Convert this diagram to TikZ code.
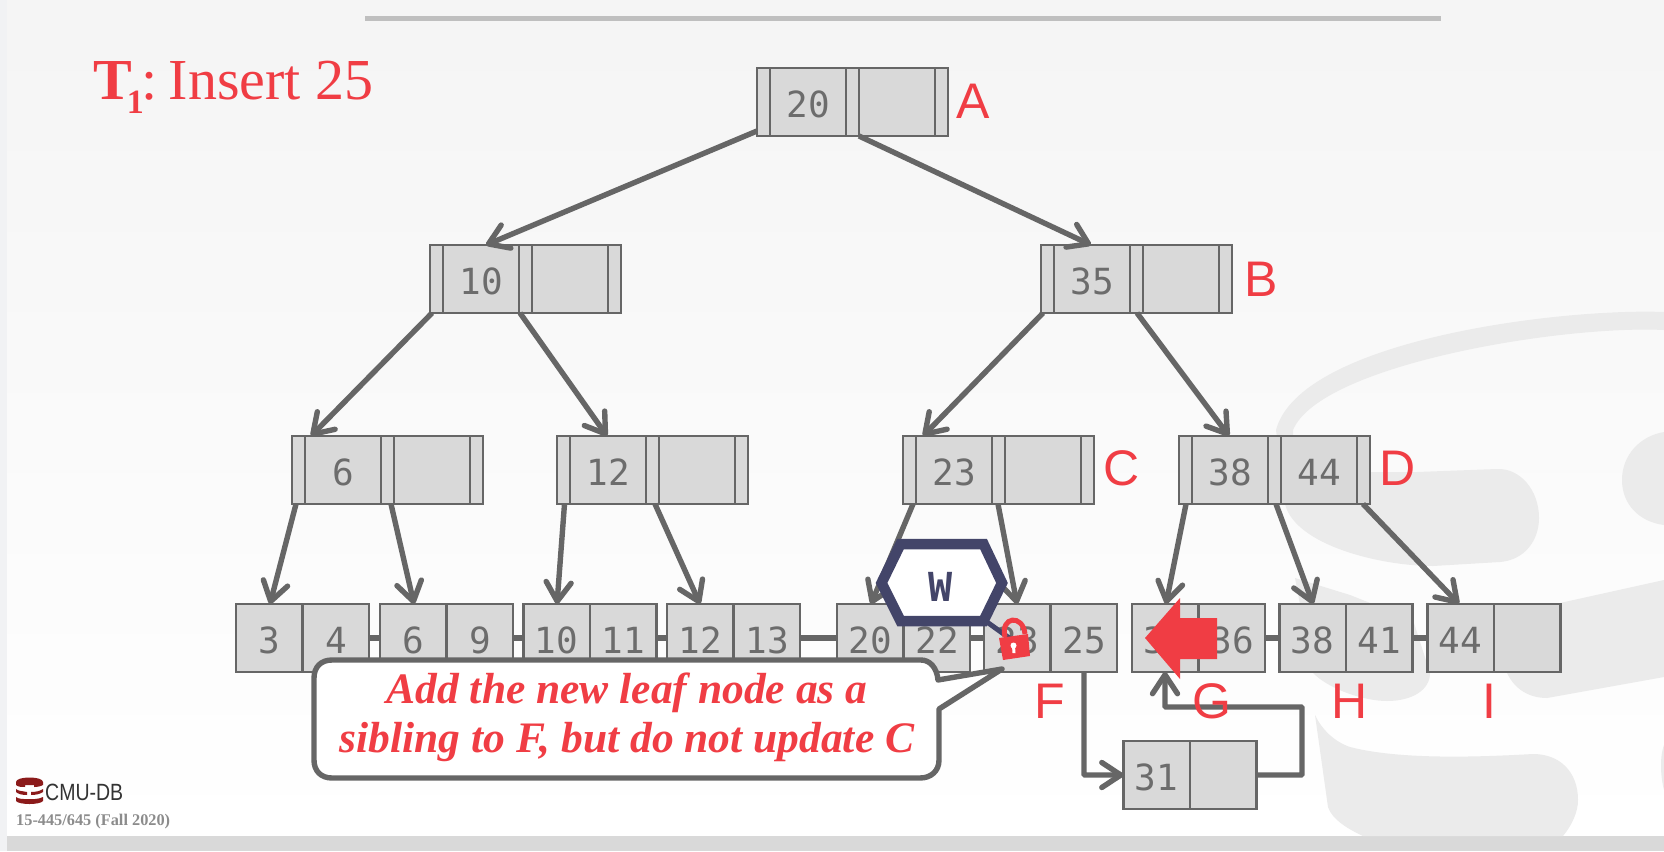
\documentclass[tikz,border=0pt]{standalone}
\usepackage{fontspec}
\usepackage{graphicx}
\usetikzlibrary{arrows.meta,calc}
\setmainfont{Liberation Serif}
\newfontfamily\monof{DejaVu Sans Mono}
\newfontfamily\labf{Liberation Sans}
\definecolor{lred}{HTML}{F03D44}
\definecolor{lgray}{HTML}{666666}
\definecolor{ltext}{HTML}{6C6C6C}
\definecolor{lfill}{HTML}{D9D9D9}
\definecolor{lblue}{HTML}{434569}
\definecolor{wmark}{HTML}{EBEBEB}
\definecolor{lstrip}{HTML}{F1F2F4}
\definecolor{dbred}{HTML}{8B1A1A}
\tikzset{
  cellbox/.style={draw=lgray,fill=lfill,line width=2.7pt,inner sep=0pt,outer sep=0pt,anchor=north west,rectangle},
  innerbox/.style={cellbox,minimum width=191pt,minimum height=68pt},
  leafbox/.style={cellbox,minimum width=133pt,minimum height=68pt},
  divider/.style={draw=lgray,line width=2.7pt},
  keytext/.style={font=\monof\fontsize{36}{36}\selectfont,text=ltext,anchor=base,inner sep=0pt},
  letter/.style={font=\labf\fontsize{50}{50}\selectfont,text=lred,anchor=base,inner sep=0pt},
  ptr/.style={draw=lgray,line width=5.4pt,-{Straight Barb[length=19pt,width=25pt,round]}},
  sib/.style={draw=lgray,line width=5.4pt},
}
\newcommand{\innernode}[5]{% name x y key1 key2
  \node[innerbox] (#1) at (#2,#3) {};
  \foreach \d in {13,89,102,178}{\draw[divider] ([xshift=\d pt]#1.north west) -- ([xshift=\d pt]#1.south west);}
  \node[keytext] (#1-k1) at (#2+51,#3+49.5) {#4};
  \node[keytext] (#1-k2) at (#2+140.5,#3+49.5) {#5};
}
\newcommand{\leafnode}[5]{% name x y key1 key2
  \node[leafbox] (#1) at (#2,#3) {};
  \draw[divider] ([xshift=66.5pt]#1.north west) -- ([xshift=66.5pt]#1.south west);
  \node[keytext] (#1-k1) at (#2+33,#3+49.5) {#4};
  \node[keytext] (#1-k2) at (#2+100,#3+49.5) {#5};
}
\begin{document}
\begin{tikzpicture}[x=1pt,y=-1pt]
\useasboundingbox (0,0) rectangle (1664,851);
% background
\fill[lstrip] (0,0) rectangle (1664,851);
\fill[black!4] (7,0) rectangle (1664,14);
\shade[top color=black!4,bottom color=white] (7,14) rectangle (1664,835);
\fill[lfill] (7,836) rectangle (1664,851);
\fill[black!25] (365,16) rectangle (1441,21);
% watermark
\fill[wmark] (1664,312) .. controls (1560,308) and (1300,340) .. (1276,430)
  -- (1285,504) .. controls (1295,545) and (1380,566) .. (1433,566)
  -- (1500,562) .. controls (1525,560) and (1539,540) .. (1539,518)
  .. controls (1539,490) and (1520,468) .. (1497,469)
  -- (1417,472) -- (1293,472) -- (1293,430)
  .. controls (1320,365) and (1560,325) .. (1664,330) -- cycle;
\fill[wmark] (1664,432) .. controls (1640,436) and (1622,455) .. (1622,480)
  .. controls (1622,505) and (1640,522) .. (1664,525) -- cycle;
\fill[wmark] (1295,578) -- (1313,673) .. controls (1330,690) and (1365,701) .. (1387,701)
  .. controls (1412,701) and (1430,690) .. (1430,673) -- (1413,620) -- (1350,595) -- cycle;
\fill[wmark] (1664,580) -- (1560,603) -- (1480,610) -- (1507,673)
  .. controls (1515,690) and (1530,698) .. (1547,698) -- (1664,677) -- cycle;
\fill[wmark] (1315,715) -- (1328,807) .. controls (1332,820) and (1350,830) .. (1363,836)
  -- (1563,836) .. controls (1572,825) and (1578,812) .. (1578,800)
  .. controls (1578,772) and (1560,754) .. (1533,754)
  .. controls (1480,757) and (1400,760) .. (1350,747)
  .. controls (1335,742) and (1322,730) .. (1315,715) -- cycle;
\fill[wmark] (1664,745) .. controls (1660,755) and (1660,775) .. (1664,790) -- cycle;
% title
\node[anchor=base west,inner sep=0pt,text=lred,font=\fontsize{58}{58}\selectfont] (title) at (93,99)
  {{\bfseries T}\kern-5pt\raisebox{-14pt}{\fontsize{34}{34}\selectfont\bfseries 1}\kern-2pt:\kern11pt Insert 25};
% inner nodes
\innernode{A}{757}{68}{20}{}
\innernode{N10}{430}{245}{10}{}
\innernode{B}{1041}{245}{35}{}
\innernode{N6}{292}{436}{6}{}
\innernode{N12}{557}{436}{12}{}
\innernode{C}{903}{436}{23}{}
\innernode{D}{1179}{436}{38}{44}
% leaves
\leafnode{L1}{236}{604}{3}{4}
\leafnode{L2}{380}{604}{6}{9}
\leafnode{L3}{523.5}{604}{10}{11}
\leafnode{L4}{667}{604}{12}{13}
\leafnode{L5}{837}{604}{20}{22}
\leafnode{F}{984}{604}{23}{25}
\leafnode{G}{1132}{604}{31}{36}
\leafnode{H}{1279.5}{604}{38}{41}
\leafnode{I}{1427.5}{604}{44}{}
\leafnode{N31}{1123.5}{741}{31}{}
% sibling links
\draw[sib] (L1.east) -- (L2.west);
\draw[sib] (L2.east) -- (L3.west);
\draw[sib] (L3.east) -- (L4.west);
\draw[sib] (L4.east) -- (L5.west);
\draw[sib] (L5.east) -- (F.west);
\draw[sib] (G.east) -- (H.west);
\draw[sib] (H.east) -- (I.west);
% tree pointers
\draw[ptr] ([yshift=5pt]A.south west) -- ([xshift=56pt]N10.north west);
\draw[ptr] ([xshift=102pt]A.south west) -- ([xshift=50pt]B.north west);
\draw[ptr] ([xshift=2pt]N10.south west) -- ([xshift=19pt]N6.north west);
\draw[ptr] ([xshift=90pt]N10.south west) -- ([xshift=50pt]N12.north west);
\draw[ptr] ([xshift=2pt]B.south west) -- ([xshift=20pt]C.north west);
\draw[ptr] ([xshift=96pt]B.south west) -- ([xshift=50pt]D.north west);
\draw[ptr] ([xshift=4pt]N6.south west) -- ([xshift=34pt]L1.north west);
\draw[ptr] ([xshift=99pt]N6.south west) -- ([xshift=34pt]L2.north west);
\draw[ptr] ([xshift=7.5pt]N12.south west) -- ([xshift=33.5pt]L3.north west);
\draw[ptr] ([xshift=98pt]N12.south west) -- ([xshift=33pt]L4.north west);
\draw[ptr] ([xshift=10pt]C.south west) -- ([xshift=34pt]L5.north west);
\draw[ptr] ([xshift=95pt]C.south west) -- ([xshift=33pt]F.north west);
\draw[ptr] ([xshift=7pt]D.south west) -- ([xshift=34pt]G.north west);
\draw[ptr] ([xshift=97pt]D.south west) -- ([xshift=33.5pt]H.north west);
\draw[ptr] ([xshift=184pt]D.south west) -- ([xshift=31.5pt]I.north west);
\draw[ptr,rounded corners=1pt] ([xshift=100pt]F.south west) |- (N31.west);
\coordinate (turnR) at (1302,775);
\coordinate (turnT) at (1302,707);
\draw[ptr,rounded corners=1pt] (N31.east) -- (turnR) -- (turnT) -| ([xshift=33pt]G.south west);
% letters
\node[letter] (lA) at (973,118) {A};
\node[letter] (lB) at (1261,296) {B};
\node[letter] (lC) at (1122,485) {C};
\node[letter] (lD) at (1398,485) {D};
\node[letter] (lF) at (1050,718) {F};
\node[letter] (lG) at (1212,718) {G};
\node[letter] (lH) at (1350,718) {H};
\node[letter] (lI) at (1489,718) {I};
% latch hexagon, tail and lock
\coordinate (tailend) at (1012,640);
\draw[lblue,line width=5pt] (987,622) -- (tailend);
\draw[lblue,fill=white,line width=10.5pt,miter limit=10]
  (881.5,583) -- (900.5,544) -- (983.5,544) -- (1002,583) -- (983.5,621) -- (900.5,621) -- cycle;
\node[anchor=base,inner sep=0pt,text=lblue,font=\monof\bfseries\fontsize{40}{40}\selectfont] (W) at (941,601) {W};
\draw[lred,line width=5pt] (1005,637) .. controls (1000,616) and (1023,614) .. (1025,634);
\fill[lred] (999,638) -- (1028,634) -- (1030,656) -- (1003,660) -- cycle;
\fill[white] (1013.5,645.5) circle (3pt);
\fill[white] (1012,646) -- (1015,646) -- (1015.5,653) -- (1012.5,653) -- cycle;
% big red arrow
\fill[lred] (1145,638) -- (1180,598) -- (1180,618) -- (1217,618) -- (1217,659) -- (1180,659) -- (1180,679) -- cycle;
% callout
\draw[lgray,fill=white,line width=5.4pt,line join=round]
  (332,660) -- (921,660) .. controls (930,660) and (937,668) .. (938,680)
  -- (1002,669) -- (939,709) -- (939,760) .. controls (939,771) and (931,778) .. (920,778)
  -- (332,778) .. controls (321,778) and (314,771) .. (314,760)
  -- (314,678) .. controls (314,667) and (321,660) .. (332,660) -- cycle;
\node[anchor=base,inner sep=0pt,text=lred,font=\bfseries\itshape\fontsize{43.5}{43.5}\selectfont] (call1) at (627,703) {Add the new leaf node as a};
\node[anchor=base,inner sep=0pt,text=lred,font=\bfseries\itshape\fontsize{43.5}{43.5}\selectfont] (call2) at (627,752) {sibling to F, but do not update C};
% logo
\fill[dbred] (16,782) .. controls (16,776) and (43,776) .. (43,782) -- (43,785) .. controls (40,787) and (34,787) .. (34,787) -- (34,785) -- (25,785) -- (25,787) .. controls (22,787) and (18,787) .. (16,785) -- cycle;
\fill[dbred] (16,789) .. controls (18,791) and (22,791) .. (27,792) -- (27,795) .. controls (22,795) and (18,794) .. (16,792) -- cycle;
\fill[dbred] (43,789) .. controls (40,791) and (36,792) .. (31,792) -- (31,795) .. controls (36,795) and (40,794) .. (43,792) -- cycle;
\fill[dbred] (16,797) .. controls (18,799) and (24,799) .. (24,799) -- (35,799) .. controls (38,799) and (41,798) .. (43,797) -- (43,801) .. controls (40,805) and (19,805) .. (16,801) -- cycle;
\node[anchor=base west,inner sep=0pt,text=black!80,font=\labf\fontsize{23.5}{23.5}\selectfont] (logo) at (45,800) {\scalebox{0.83}[1]{CMU-DB}};
\node[anchor=base west,inner sep=0pt,text=black!45,font=\bfseries\fontsize{16.3}{16.3}\selectfont] (course) at (16,825) {15-445/645 (Fall 2020)};
\end{tikzpicture}
\end{document}
